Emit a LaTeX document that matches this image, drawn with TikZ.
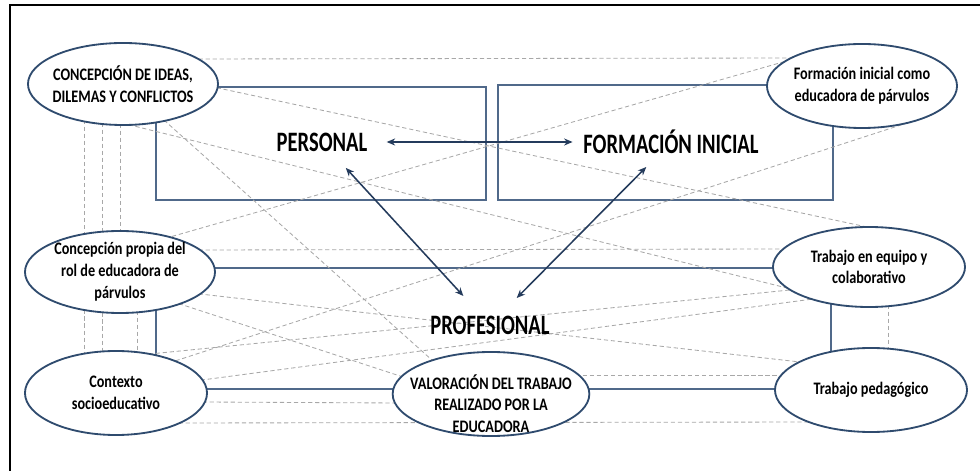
\documentclass[tikz,border=0pt]{standalone}
\usepackage{fontspec}
\usepackage{tikz}
\usetikzlibrary{shapes,arrows.meta,positioning,backgrounds}

\newfontfamily\elfont[FakeStretch=0.81]{Carlito}
\newfontfamily\bigfont[FakeStretch=0.73]{Carlito}
\definecolor{rimblue}{HTML}{2F4B6E}
\definecolor{boxblue}{HTML}{50698A}
\definecolor{arrblue}{HTML}{243B5C}
\definecolor{dashgray}{HTML}{A8A8A8}

\begin{document}
\begin{tikzpicture}[x=0.025cm, y=-0.025cm,
    elli/.style={ellipse, draw=rimblue, line width=1.3pt, fill=white, inner sep=-8pt, align=center,
        font=\elfont\bfseries\fontsize{12.5}{15.5}\selectfont},
    box/.style={draw=boxblue, line width=1.1pt},
    bigtxt/.style={font=\bigfont\bfseries\fontsize{20}{24}\selectfont},
    link/.style={draw=boxblue, line width=1.3pt},
    faint/.style={draw=dashgray, line width=0.6pt, dash pattern=on 3pt off 2pt, shorten <=-6pt, shorten >=-6pt},
    arr/.style={draw=arrblue, line width=1.1pt, {Stealth[length=6pt,width=5pt]}-{Stealth[length=6pt,width=5pt]}}]
    \useasboundingbox (0,0) rectangle (980,471);

    % frame
    \draw[line width=1.4pt] (10,471) -- (10,5) -- (980,5);

    % ellipses
    \node[elli, minimum width=4.75cm, minimum height=2.05cm] (ideas) at (123,84) {CONCEPCIÓN DE IDEAS,\\DILEMAS Y CONFLICTOS};
    \node[elli, minimum width=4.75cm, minimum height=2.1cm] (forma) at (862,86) {Formación inicial como\\educadora de párvulos};
    \node[elli, minimum width=4.75cm, minimum height=2.05cm] (rol) at (120,272) {Concepción propia del\\rol de educadora de\\párvulos};
    \node[elli, minimum width=4.8cm, minimum height=2.0cm] (equipo) at (869,267) {Trabajo en equipo y\\colaborativo};
    \node[elli, minimum width=4.55cm, minimum height=2.1cm] (ctx) at (116,393) {Contexto\\socioeducativo};
    \node[elli, inner ysep=-15pt, minimum width=4.8cm, minimum height=2.1cm] (valor) at (491,394)
        {\rule{0pt}{24pt}VALORACIÓN DEL TRABAJO\\REALIZADO POR LA\\EDUCADORA};
    \node[elli, minimum width=4.8cm, minimum height=2.1cm] (ped) at (871,390) {Trabajo pedagógico};

    % the three dimensions
    \node[bigtxt] (per) at (322,142) {PERSONAL};
    \node[bigtxt] (for) at (671,142) {FORMACIÓN INICIAL};
    \node[bigtxt] (prof) at (490,325) {PROFESIONAL};

    \draw[arr] (per.center) -- (for.center) [shorten <=46pt, shorten >=70pt];
    \draw[arr] (prof.center) -- (per.center) [shorten <=28pt, shorten >=25pt];
    \draw[arr] (prof.center) -- (for.center) [shorten <=27pt, shorten >=25pt];

    \begin{pgfonlayer}{background}
    \node[box, minimum width=8.25cm, minimum height=2.83cm] (boxper) at (321,143.5) {};
    \node[box, minimum width=8.38cm, minimum height=2.88cm] (boxfor) at (665.5,142.5) {};

    % solid links
    \draw[link] ([shift={(0,-4)}]rol.center) -- ([shift={(0,1)}]equipo.center);
    \draw[link] ([shift={(0,-4)}]ctx.center) -- ([shift={(0,-5)}]valor.center) -- ([shift={(0,-1)}]ped.center);
    \draw[link] ([shift={(36,0)}]rol.center) -- ([shift={(40,0)}]ctx.center);
    \draw[link] ([shift={(-38,0)}]equipo.center) -- ([shift={(-40,0)}]ped.center);

    % dashed links
    \draw[faint] ([shift={(77,-25)}]ideas.center) -- ([shift={(-72,-28)}]forma.center);
    \draw[faint] ([shift={(-3,41)}]ideas.center) -- ([shift={(0,-41)}]rol.center);
    \draw[faint] ([shift={(-39,37)}]ideas.center) -- ([shift={(-32,-39)}]ctx.center);
    \draw[faint] ([shift={(-21,40)}]ideas.center) -- ([shift={(-14,-41)}]ctx.center);
    \draw[faint] ([shift={(17,40)}]rol.center) -- ([shift={(21,-41)}]ctx.center);
    \draw[faint] ([shift={(19,39)}]equipo.center) -- ([shift={(17,-41)}]ped.center);
    \draw[faint] ([shift={(80,-22)}]rol.center) -- ([shift={(-88,-18)}]equipo.center);
    \draw[faint] ([shift={(88,9)}]ctx.center) -- ([shift={(-94,9)}]valor.center);
    \draw[faint] ([shift={(64,30)}]ctx.center) -- ([shift={(-62,32)}]ped.center);
    \draw[faint] ([shift={(86,-19)}]valor.center) -- ([shift={(-90,-15)}]ped.center);
    \draw[faint] ([shift={(95,4)}]ideas.center) -- ([shift={(-2,-40)}]equipo.center);
    \draw[faint] ([shift={(7,41)}]ideas.center) -- ([shift={(-74,23)}]equipo.center);
    \draw[faint] ([shift={(42,37)}]ideas.center) -- ([shift={(-58,-33)}]valor.center);
    \draw[faint] ([shift={(-72,-26)}]forma.center) -- ([shift={(50,-35)}]rol.center);
    \draw[faint] ([shift={(45,37)}]forma.center) -- ([shift={(59,-32)}]ctx.center);
    \draw[faint] ([shift={(86,-13)}]ctx.center) -- ([shift={(-56,32)}]equipo.center);
    \draw[faint] ([shift={(60,32)}]rol.center) -- ([shift={(-88,-17)}]valor.center);
    \draw[faint] ([shift={(80,22)}]rol.center) -- ([shift={(-71,-28)}]ped.center);
    \draw[faint] ([shift={(34,-39)}]ctx.center) -- ([shift={(-79,23)}]equipo.center);
    \end{pgfonlayer}
\end{tikzpicture}
\end{document}
